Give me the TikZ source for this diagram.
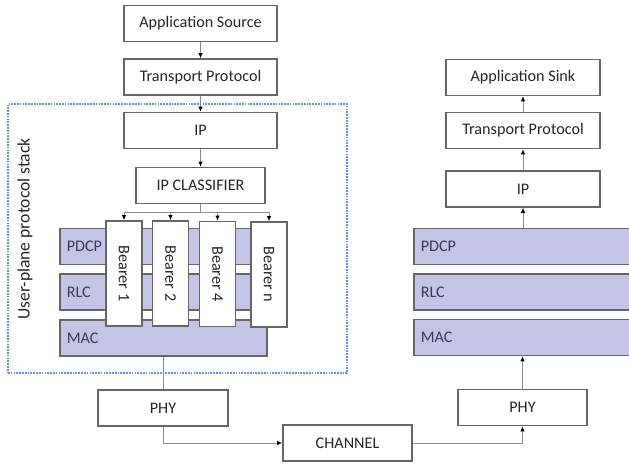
\documentclass[tikz,border=0pt]{standalone}
\usepackage{fontspec}
\setmainfont{Carlito}
\usetikzlibrary{positioning,arrows.meta}
\definecolor{bandfill}{HTML}{C3C4E6}
\definecolor{edgegray}{HTML}{666666}
\definecolor{wiregray}{HTML}{8C8C8C}
\definecolor{stackblue}{HTML}{5B96D6}
\definecolor{bandtext}{HTML}{3A3A58}

\begin{document}
\begin{tikzpicture}[x=0.025cm, y=-0.025cm,
  box/.style={draw=edgegray, line width=0.9pt, fill=white, minimum height=0.9cm, text=black!85, font=\fontsize{11.5}{13}\selectfont},
  band/.style={draw=edgegray, line width=0.9pt, fill=bandfill, minimum height=0.9cm, inner xsep=0.17cm, align=left, text width=#1, text=bandtext, font=\fontsize{11.5}{13}\selectfont},
  bearer/.style={box, minimum width=0.9cm, minimum height=2.625cm, inner sep=0pt},
  wire/.style={draw=wiregray, line width=0.7pt},
  arr/.style={wire, -{Latex[length=1.3mm, width=1.1mm, color=black]}}
]
\useasboundingbox (0,0) rectangle (629,463);

% sending side
\node[box, minimum width=3.825cm] (src) at (200.5,23.5) {Application Source};
\node[box, minimum width=3.825cm] (tpL) at (200.5,77) {Transport Protocol};
\node[draw=stackblue, line width=0.8pt, dash pattern=on 1.2pt off 0.8pt, minimum width=8.475cm, minimum height=6.725cm] (stack) at (177.5,238.5) {};
\node[rotate=90, text=black!85, font=\fontsize{12.5}{14}\selectfont] (stacklbl) at (25,229) {User-plane protocol stack};
\node[box, minimum width=3.825cm] (ipL) at (200.5,130.5) {IP};
\node[box, minimum width=3.225cm] (cls) at (200.5,185.5) {IP CLASSIFIER};
\node[band=4.785cm] (pdcpL) at (162.5,246.5) {PDCP};
\node[band=4.785cm] (rlcL) at (162.5,292) {RLC};
\node[band=4.835cm] (macL) at (163.5,338) {MAC};
\node[bearer] (b1) at (124,273.5) {\rotatebox{-90}{Bearer 1}};
\node[bearer] (b2) at (170.5,273.5) {\rotatebox{-90}{Bearer 2}};
\node[bearer] (b4) at (217.5,274) {\rotatebox{-90}{Bearer 4}};
\node[bearer] (bn) at (269,274.5) {\rotatebox{-90}{Bearer n}};
\node[box, minimum width=3.25cm] (phyL) at (163,408) {PHY};

% channel
\node[box, minimum width=3.225cm] (chan) at (347.5,443) {CHANNEL};

% receiving side
\node[box, minimum width=3.225cm] (phyR) at (522.5,407.5) {PHY};
\node[band=5.31cm] (macR) at (527,337.5) {MAC};
\node[band=5.31cm] (rlcR) at (527,292) {RLC};
\node[band=5.31cm] (pdcpR) at (527,246.5) {PDCP};
\node[box, minimum width=3.85cm] (ipR) at (523,189) {IP};
\node[box, minimum width=3.85cm] (tpR) at (523,130.5) {Transport Protocol};
\node[box, minimum width=3.85cm] (sink) at (523,77.5) {Application Sink};

\coordinate (bus) at (200.5,212);
\draw[arr] (src) -- (tpL);
\draw[arr] (tpL) -- (ipL);
\draw[arr] (ipL) -- (cls);
\draw[wire] (cls) -- (bus);
\draw[wire] (b1.north |- bus) -- (bn.north |- bus);
\foreach \b in {b1,b2,b4,bn}
  \draw[arr] (\b.north |- bus) -- (\b.north);
\draw[wire] (phyL.north |- macL.south) -- (phyL.north);
\draw[arr] (phyL.south) |- (chan.west);
\draw[arr] (chan.east) -| (phyR.south);
\draw[arr] (phyR) -- (phyR.north |- macR.south);
\draw[arr] (ipR.south |- pdcpR.north) -- (ipR.south);
\draw[arr] (ipR) -- (tpR);
\draw[arr] (tpR) -- (sink);
\end{tikzpicture}
\end{document}
